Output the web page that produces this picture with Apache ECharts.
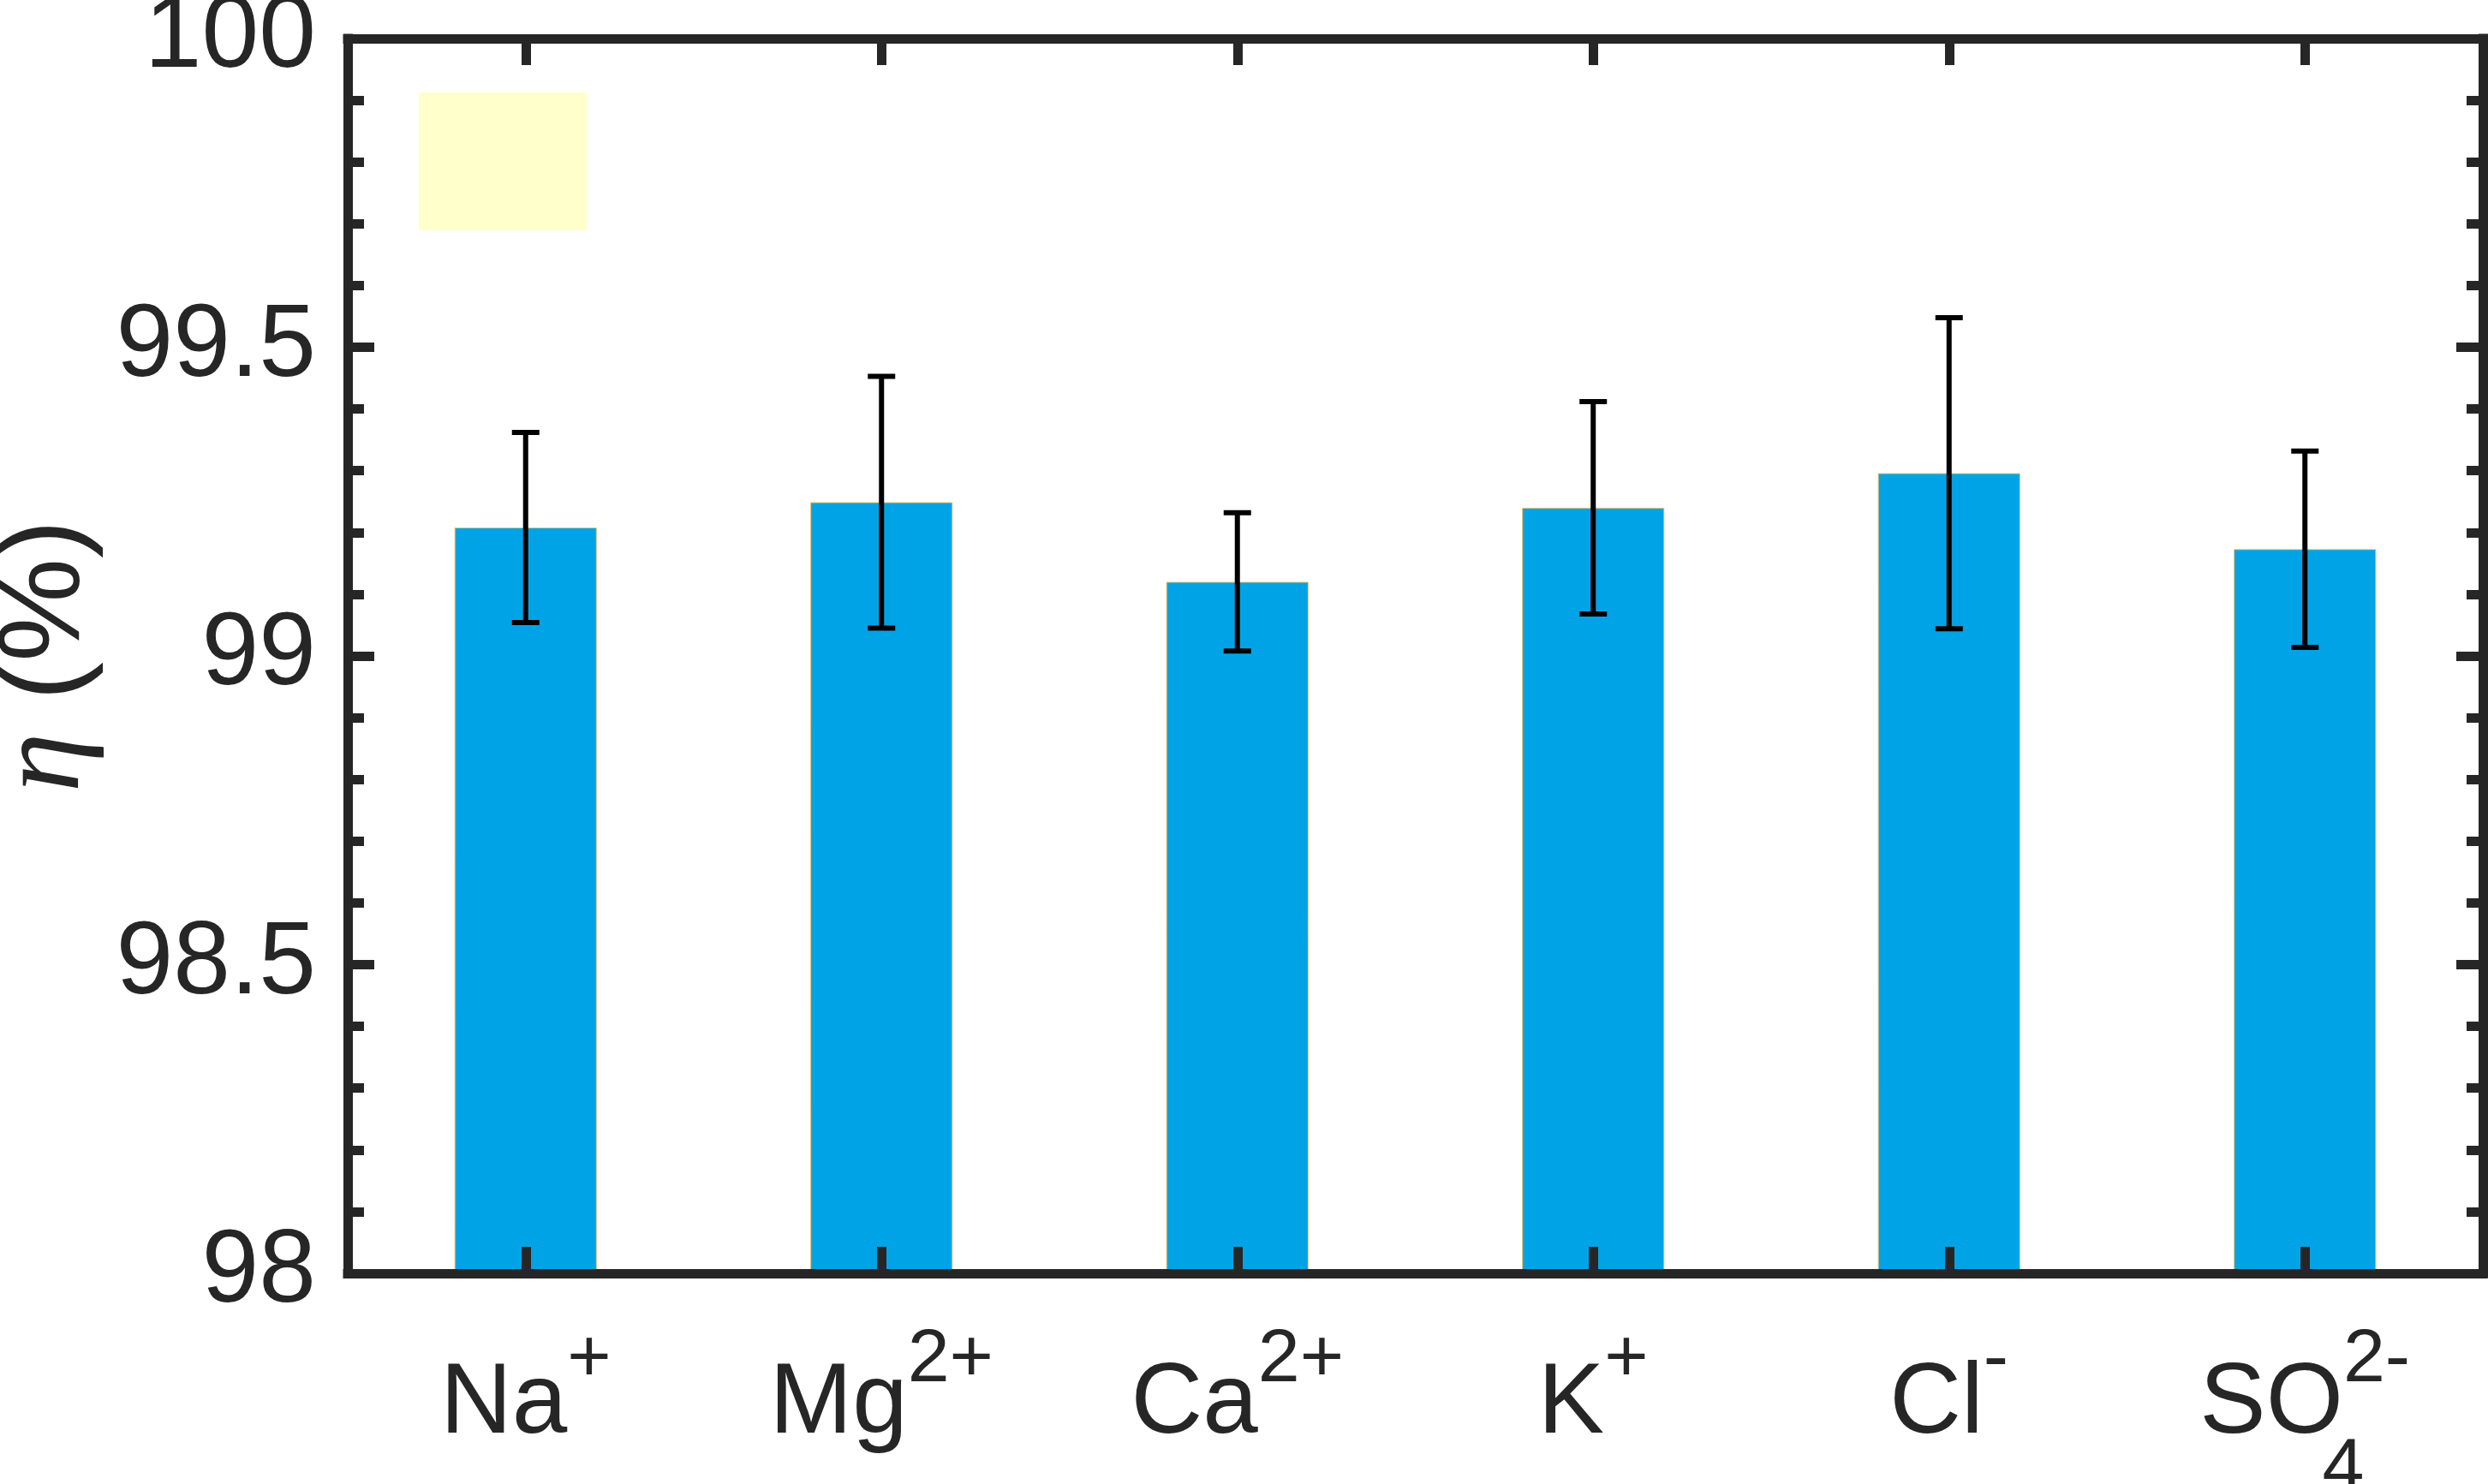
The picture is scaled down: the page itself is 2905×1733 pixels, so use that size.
<!DOCTYPE html>
<html>
<head>
<meta charset="utf-8">
<script src="https://cdn.jsdelivr.net/npm/echarts@6/dist/echarts.min.js"></script>
<style>
html,body{margin:0;padding:0;background:#fff;}
#chart{width:2905px;height:1733px;}
</style>
</head>
<body>
<div id="chart"></div>
<script>
// ---- data ----
const ionBase = ['Na', 'Mg', 'Ca', 'K', 'Cl', 'SO'];
const ionCharge = ['+', '2+', '2+', '+', '-', '2-'];
const ionSub = ['', '', '', '', '', '4'];
const etaMean = [99.208, 99.249, 99.120, 99.240, 99.296, 99.173];
const etaErr = [0.154, 0.204, 0.112, 0.172, 0.252, 0.159];
const yTickLabels = ['98', '98.5', '99', '99.5', '100'];

const categories = ionBase.map((b, i) => b + ionSub[i] + ionCharge[i]);
const errData = etaMean.map((m, i) => [i, m - etaErr[i], m + etaErr[i]]);

const AX = '#262626';
const FONT = 'Liberation Sans, Arial, sans-serif';

const chart = echarts.init(document.getElementById('chart'), null, {renderer: 'canvas'});

function xLabel(value, idx) {
  const i = categories.indexOf(value);
  let s = '{b|' + ionBase[i] + '}';
  if (ionSub[i]) s += '{sz|' + ionSub[i] + '}';
  s += '{p|' + ionCharge[i] + '}';
  return s;
}

const tickStyle = {color: AX, width: 11};
const lineStyle = {color: AX, width: 11, cap: 'square'};

const option = {
  backgroundColor: '#ffffff',
  animation: false,
  grid: {left: 406, top: 45, width: 2493, height: 1442, containLabel: false, outerBoundsMode: 'none'},
  xAxis: [
    {
      type: 'category', data: categories, position: 'bottom', z: 10,
      boundaryGap: true,
      axisLine: {show: true, lineStyle: lineStyle},
      axisTick: {show: true, inside: true, alignWithLabel: true, length: 31, lineStyle: tickStyle},
      axisLabel: {
        interval: 0, margin: 58, color: AX, fontFamily: FONT,
        formatter: xLabel,
        rich: {
          b: {fontSize: 116, fontFamily: FONT, color: AX, verticalAlign: 'bottom', padding: [0, 0, 66, 0]},
          p: {fontSize: 88, fontFamily: FONT, color: AX, verticalAlign: 'bottom', padding: [0, 0, 132, 0]},
          sz: {fontSize: 88, fontFamily: FONT, color: AX, verticalAlign: 'bottom', width: 0, padding: [0, 0, 4, 0]}
        }
      },
      splitLine: {show: false}
    },
    {
      type: 'category', data: categories, position: 'top', z: 10,
      boundaryGap: true,
      axisLine: {show: true, lineStyle: lineStyle},
      axisTick: {show: true, inside: true, alignWithLabel: true, length: 31, lineStyle: tickStyle},
      axisLabel: {show: false},
      splitLine: {show: false}
    }
  ],
  yAxis: [
    {
      type: 'value', position: 'left', min: 98, max: 100, interval: 0.5, z: 10,
      name: '{i|η} (%)', nameLocation: 'middle', nameRotate: 90, nameGap: 280,
      nameTextStyle: {
        fontSize: 136, fontFamily: FONT, color: AX,
        rich: {i: {fontSize: 140, fontFamily: 'Liberation Serif, DejaVu Serif, serif', fontStyle: 'italic', color: AX}}
      },
      axisLine: {show: true, lineStyle: lineStyle},
      axisTick: {show: true, inside: true, length: 31, lineStyle: tickStyle},
      minorTick: {show: true, splitNumber: 5, length: 19, lineStyle: tickStyle},
      axisLabel: {
        show: true, margin: 37, fontSize: 120, fontFamily: FONT, color: AX,
        showMinLabel: true, showMaxLabel: true,
        formatter: (v) => yTickLabels[Math.round((v - 98) / 0.5)]
      },
      splitLine: {show: false}
    },
    {
      type: 'value', position: 'right', min: 98, max: 100, interval: 0.5, z: 10,
      axisLine: {show: true, lineStyle: lineStyle},
      axisTick: {show: true, inside: true, length: 31, lineStyle: tickStyle},
      minorTick: {show: true, splitNumber: 5, length: 19, lineStyle: tickStyle},
      axisLabel: {show: false},
      splitLine: {show: false}
    }
  ],
  graphic: [
    {type: 'rect', left: 489, top: 108, z: 1, shape: {width: 196, height: 161}, style: {fill: '#FFFFCC'}}
  ],
  series: [
    {
      type: 'bar', xAxisIndex: 0, yAxisIndex: 0, data: etaMean, barWidth: '40%', z: 2,
      itemStyle: {color: '#00A4E6', borderColor: 'rgba(245,195,90,0.9)', borderWidth: 1}
    },
    {
      type: 'custom', xAxisIndex: 0, yAxisIndex: 0, data: errData, z: 3,
      renderItem: function (params, api) {
        const x = api.value(0);
        const lo = api.coord([x, api.value(1)]);
        const hi = api.coord([x, api.value(2)]);
        const hw = 16;
        const st = {stroke: '#000', lineWidth: 6};
        return {
          type: 'group',
          children: [
            {type: 'line', shape: {x1: lo[0], y1: lo[1], x2: hi[0], y2: hi[1]}, style: st},
            {type: 'line', shape: {x1: lo[0] - hw, y1: lo[1], x2: lo[0] + hw, y2: lo[1]}, style: st},
            {type: 'line', shape: {x1: hi[0] - hw, y1: hi[1], x2: hi[0] + hw, y2: hi[1]}, style: st}
          ]
        };
      }
    }
  ]
};
chart.setOption(option);
</script>
</body>
</html>
